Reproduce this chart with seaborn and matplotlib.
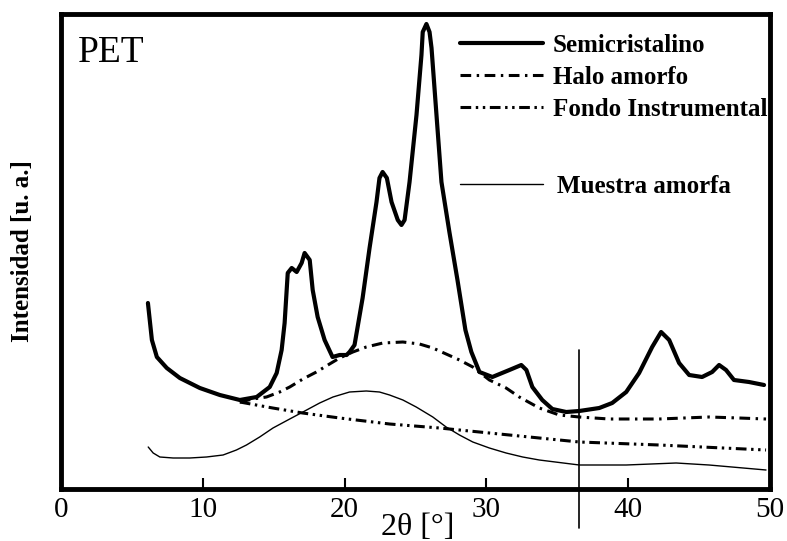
import matplotlib
matplotlib.use("Agg")
import matplotlib.pyplot as plt
import seaborn as sns

# ---- data (intensity in arbitrary units) ----
semi_x = [6.13, 6.41, 6.76, 7.46, 8.38, 9.79, 11.20, 12.61, 13.80, 14.72, 15.21, 15.56,
          15.77, 15.99, 16.27, 16.62, 16.97, 17.18, 17.54, 17.75, 18.10, 18.59, 19.15,
          19.65, 20.14, 20.35, 20.70, 21.27, 21.76, 22.25, 22.46, 22.68, 22.98, 23.31,
          23.75, 24.01, 24.23, 24.58, 25.07, 25.42, 25.51, 25.77, 25.99, 26.13, 26.48,
          26.83, 27.39, 27.96, 28.52, 28.94, 29.51, 30.42, 31.62, 32.46, 32.82, 33.24,
          33.94, 34.65, 35.63, 36.55, 37.96, 38.87, 39.86, 40.77, 41.69, 42.32, 42.89,
          43.59, 44.30, 45.21, 45.92, 46.41, 46.90, 47.46, 48.52, 49.58]
semi_y = [186, 149, 132, 121, 111, 101, 94, 89, 92, 102, 116, 139,
          166, 216, 221, 217, 226, 236, 229, 199, 172, 149, 132,
          134, 134, 137, 144, 191, 241, 287, 311, 317, 311, 287,
          269, 264, 269, 307, 374, 434, 457, 465, 457, 441, 374,
          307, 257, 209, 159, 137, 117, 112, 119, 124, 119, 102,
          89, 80, 77, 78, 81, 86, 97, 116, 142, 157, 149,
          126, 114, 112, 117, 124, 119, 109, 107, 104]

halo_x = [12.61, 13.54, 14.49, 15.42, 16.13, 17.06, 18.01, 18.94, 19.65, 20.58,
          21.53, 22.70, 24.11, 25.28, 26.22, 27.16, 28.10, 29.04, 30.21, 31.39,
          32.32, 33.73, 35.14, 36.55, 38.66, 42.18, 45.70, 47.82, 49.72]
halo_y = [87, 90, 92, 97, 102, 110, 117, 125, 131, 137,
          142, 146, 147, 145, 141, 135, 129, 122, 109, 101,
          92, 81, 74, 72, 70, 70, 72, 71, 70]

fondo_x = [12.61, 14.93, 17.04, 19.65, 23.17, 26.69, 30.21, 33.73, 36.55, 42.18, 49.72]
fondo_y = [87, 81, 76, 71, 65, 61, 56, 51, 47, 44, 39]

amorfa_x = [6.15, 6.50, 6.97, 7.91, 9.08, 10.26, 11.43, 12.37, 13.08, 14.01,
            14.95, 16.13, 17.06, 18.24, 19.18, 20.35, 21.53, 22.46, 23.17, 24.11,
            25.05, 26.22, 27.16, 28.10, 29.04, 30.21, 31.39, 32.56, 33.73, 36.55,
            39.86, 43.38, 45.70, 49.72]
amorfa_y = [42, 36, 32, 31, 31, 32, 34, 39, 44, 52,
            61, 70, 77, 86, 92, 97, 98, 97, 94, 89,
            82, 72, 62, 54, 47, 41, 36, 32, 29, 24,
            24, 26, 24, 19]

x_ticks = [0, 10, 20, 30, 40, 50]
marker_x = 36.55

labels = ["Semicristalino", "Halo amorfo", "Fondo Instrumental", "Muestra amorfa"]

# ---- style ----
sns.set_theme(style="white")
plt.rcParams['font.family'] = ['Liberation Serif', 'DejaVu Serif']

fig = plt.figure(figsize=(7.87, 5.41), dpi=100)
ax = fig.add_axes([61 / 787, 1 - 489 / 541, 709 / 787, 475 / 541])

sns.lineplot(x=amorfa_x, y=amorfa_y, ax=ax, color="black", linewidth=1.0,
             sort=False, estimator=None, label=labels[3])
sns.lineplot(x=fondo_x, y=fondo_y, ax=ax, color="black", linewidth=2.2,
             linestyle=(0, (3.5, 1.5, 0.8, 1.5, 0.8, 1.5)),
             sort=False, estimator=None, label=labels[2])
sns.lineplot(x=halo_x, y=halo_y, ax=ax, color="black", linewidth=2.2,
             linestyle=(0, (3.5, 1.8, 0.8, 1.8)),
             sort=False, estimator=None, label=labels[1])
sns.lineplot(x=semi_x, y=semi_y, ax=ax, color="black", linewidth=3.0,
             sort=False, estimator=None, label=labels[0])

ax.set_xlim(0, 50)
ax.set_ylim(0, 475)
ax.set_xticks(x_ticks)
ax.set_xticklabels([str(t) for t in x_ticks])
ax.set_yticks([])
ax.tick_params(axis="x", direction="in", length=8, width=1.5, labelsize=21,
               pad=6, colors="black", bottom=True)
for sp in ax.spines.values():
    sp.set_visible(True)
    sp.set_color("black")
    sp.set_linewidth(3.5)

ax.set_xlabel("2θ [°]", fontsize=23, color="black")
ax.xaxis.set_label_coords(0.503, -0.05)
ax.set_ylabel("Intensidad [u. a.]", fontsize=18, fontweight="bold", color="black")
ax.yaxis.set_label_coords(-0.038, 0.5)

ax.text(0.024, 0.899, "PET", transform=ax.transAxes, fontsize=27,
        va="baseline", ha="left", color="black")

ax.axvline(marker_x, ymin=-39 / 475, ymax=139 / 475, color="black",
           linewidth=1.2, clip_on=False)

lines = {l.get_label(): l for l in ax.get_lines()}
if ax.get_legend() is not None:
    ax.get_legend().remove()

leg_kw = dict(frameon=False, handlelength=3.3, borderpad=0,
              borderaxespad=0, labelspacing=0.36,
              prop={"weight": "bold", "size": 18})
leg1 = ax.legend([lines[labels[0]], lines[labels[1]], lines[labels[2]]],
                 labels[:3], loc="upper left", bbox_to_anchor=(0.563, 0.958),
                 handletextpad=0.4, **leg_kw)
for t in leg1.get_texts():
    t.set_color("black")
ax.add_artist(leg1)
leg2 = ax.legend([lines[labels[3]]], [labels[3]], loc="upper left",
                 bbox_to_anchor=(0.563, 0.661), handletextpad=0.56, **leg_kw)
for t in leg2.get_texts():
    t.set_color("black")

fig.savefig("out.png", dpi=100, facecolor="white")
